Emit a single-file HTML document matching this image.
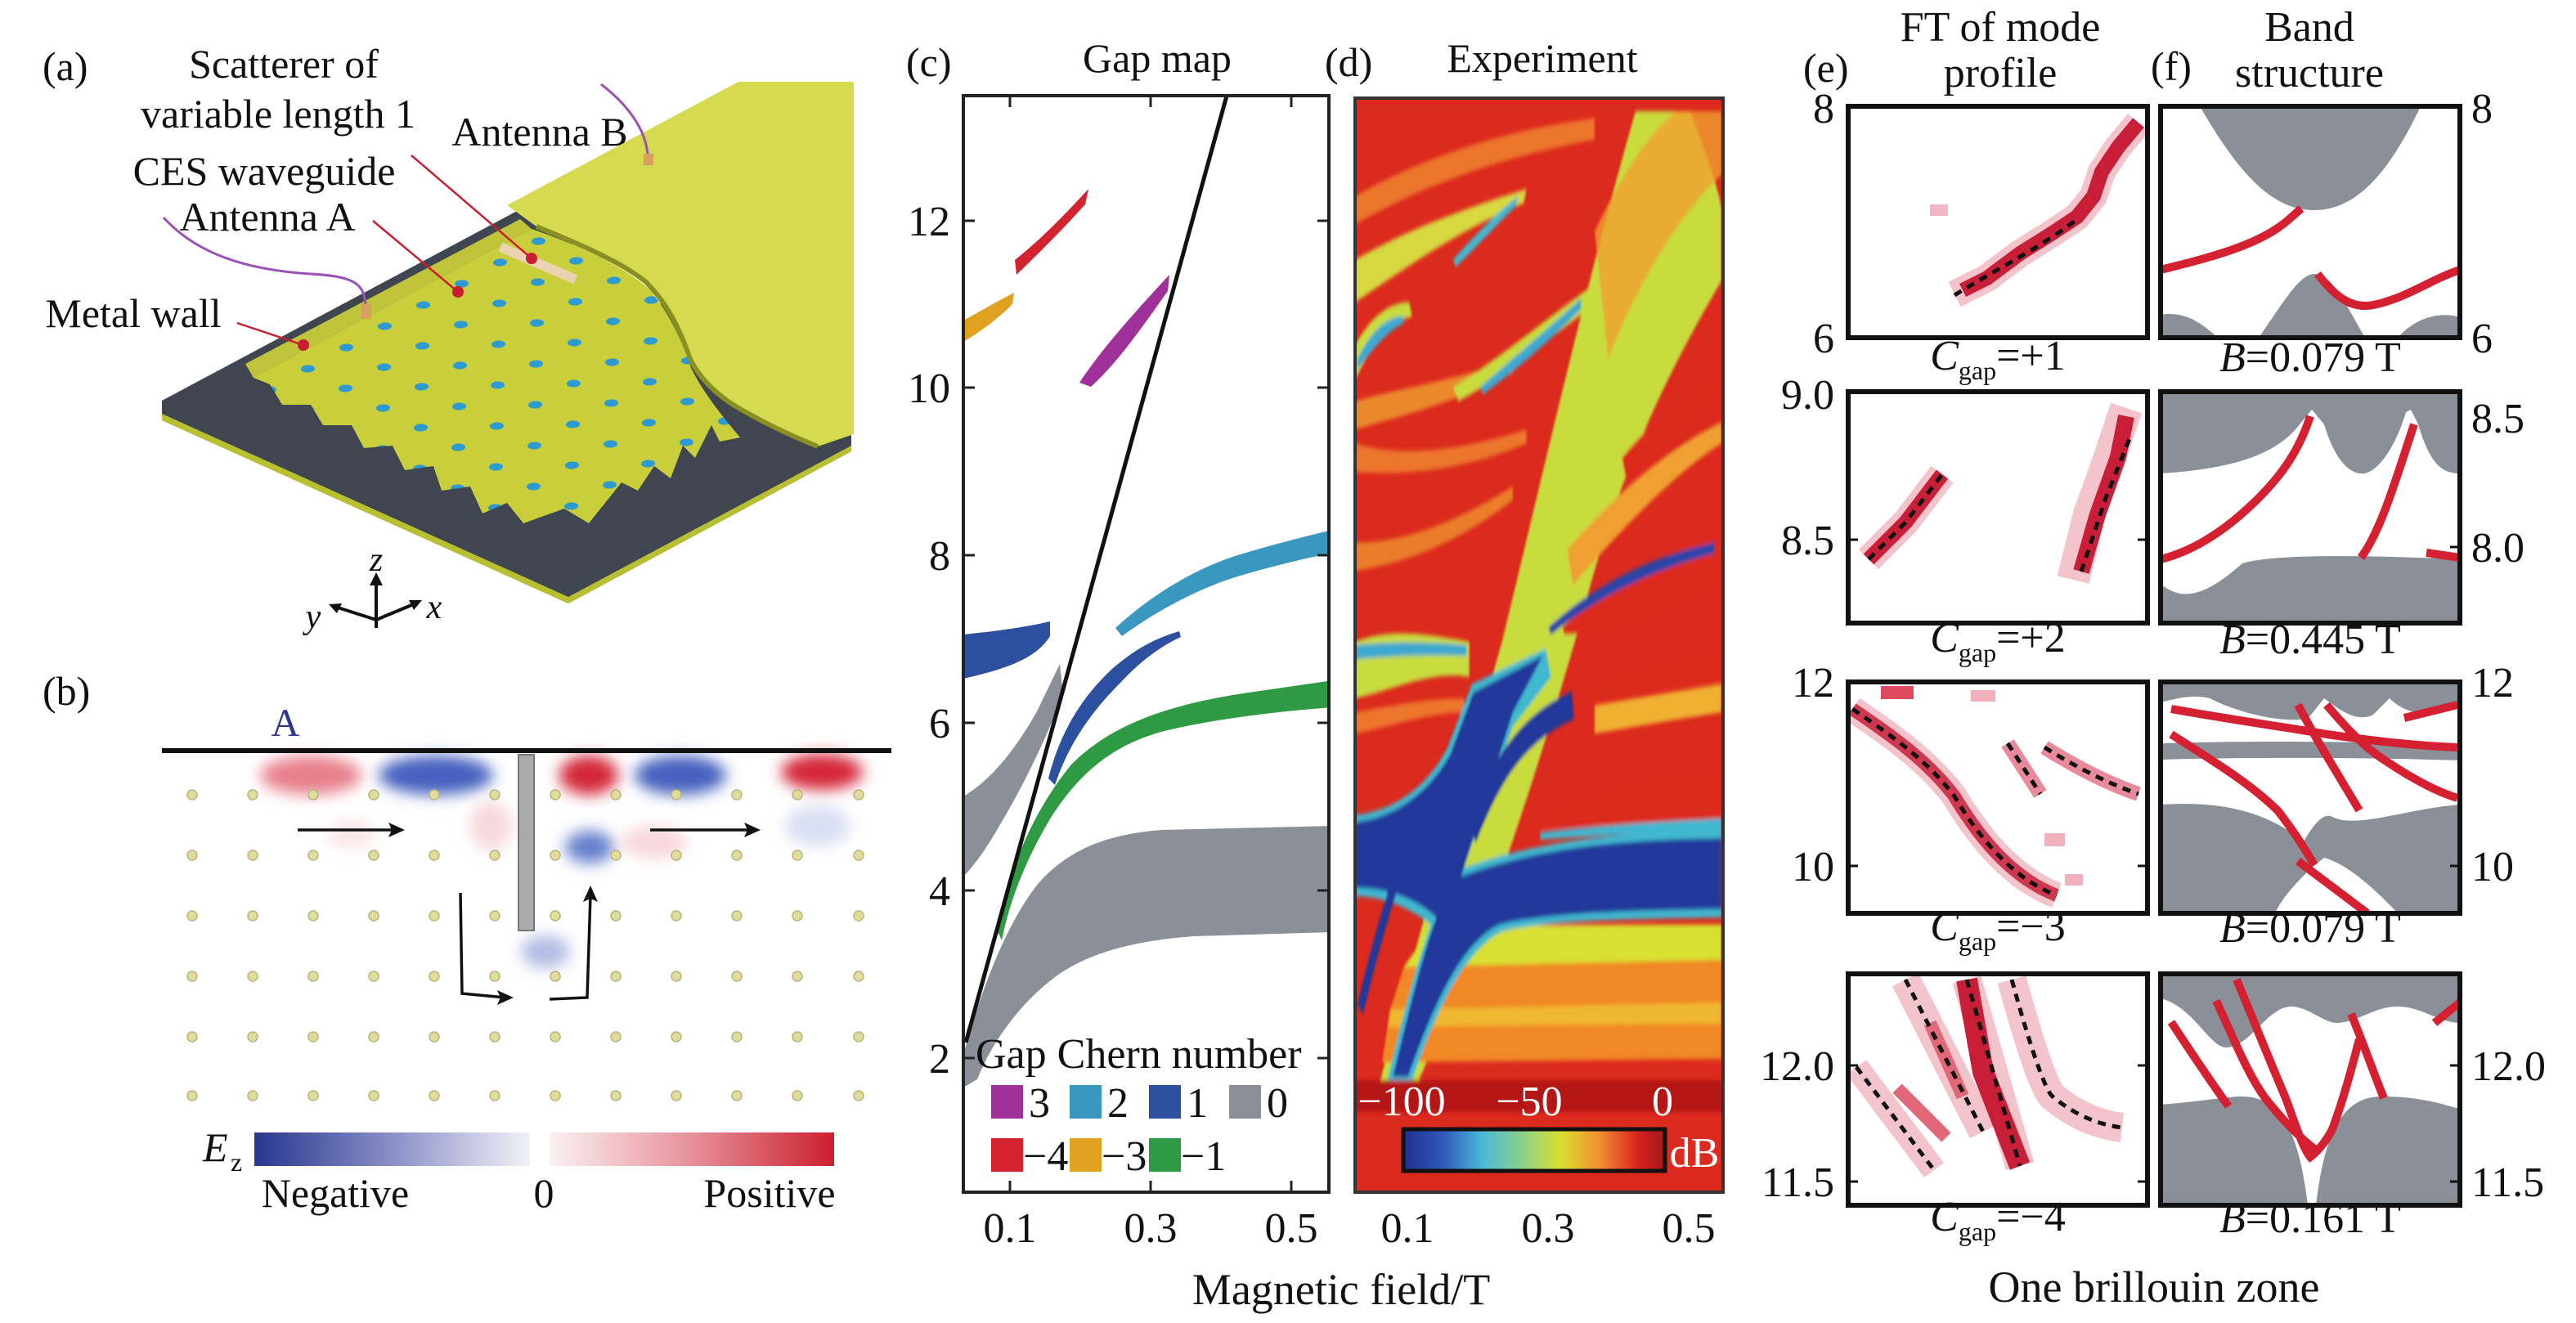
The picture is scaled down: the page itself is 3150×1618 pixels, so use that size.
<!DOCTYPE html>
<html><head><meta charset="utf-8"><style>
html,body{margin:0;padding:0;background:#fff;}
svg{display:block;}
svg, svg text{font-family:"Liberation Serif","Times New Roman","DejaVu Serif",serif;}
text{fill:#111;}
</style></head><body>
<svg width="3150" height="1618" viewBox="0 0 3150 1618" xmlns="http://www.w3.org/2000/svg" font-family="Liberation Serif, Times New Roman, DejaVu Serif, serif">
<defs>
<filter id="bl" x="-20%" y="-20%" width="140%" height="140%"><feGaussianBlur stdDeviation="9"/></filter>
<filter id="bl2" x="-20%" y="-20%" width="140%" height="140%"><feGaussianBlur stdDeviation="3"/></filter>
<pattern id="pil" patternUnits="userSpaceOnUse" width="1" height="1" patternTransform="matrix(47 -26 46 24 420 600)">
<rect width="1" height="1" fill="#c9cf3a"/>
<ellipse cx="0.5" cy="0.5" rx="0.13" ry="0.13" fill="#2e9ad2"/>
</pattern>
<linearGradient id="neg" x1="0" x2="1"><stop offset="0" stop-color="#27378f"/><stop offset="0.5" stop-color="#8a8fc6"/><stop offset="1" stop-color="#f2f2f8"/></linearGradient>
<linearGradient id="pos" x1="0" x2="1"><stop offset="0" stop-color="#fbf1f2"/><stop offset="0.5" stop-color="#e6909a"/><stop offset="1" stop-color="#cc1f2e"/></linearGradient>
<linearGradient id="jet" x1="0" x2="1"><stop offset="0" stop-color="#1f2f8f"/><stop offset="0.15" stop-color="#2f58b8"/><stop offset="0.3" stop-color="#4ab8d8"/><stop offset="0.45" stop-color="#8ad08a"/><stop offset="0.6" stop-color="#d8e030"/><stop offset="0.75" stop-color="#f09030"/><stop offset="0.9" stop-color="#d82020"/><stop offset="1" stop-color="#a01818"/></linearGradient>
<clipPath id="dclip"><rect x="1657" y="120" width="450" height="1338"/></clipPath>
<clipPath id="cclip"><rect x="1178" y="117" width="447" height="1341"/></clipPath>
</defs>

<!-- ================= Panel (a) ================= -->
<text x="52" y="98" font-size="50">(a)</text>
<text x="347" y="95" font-size="50" text-anchor="middle">Scatterer of</text>
<text x="340" y="156" font-size="50" text-anchor="middle">variable length 1</text>
<text x="660" y="178" font-size="50" text-anchor="middle">Antenna B</text>
<text x="323" y="226" font-size="50" text-anchor="middle">CES waveguide</text>
<text x="327" y="282" font-size="50" text-anchor="middle">Antenna A</text>
<text x="163" y="400" font-size="50" text-anchor="middle">Metal wall</text>

<polygon points="198,490 636,256 1041,528 1041,552 695,738 198,514" fill="#3f4650"/>
<polygon points="198,506 695,730 1041,545 1041,552 695,738 198,514" fill="#b8c030"/>
<path d="M620,251 L903,100 L1044,100 L1044,531 L1000,546 C960,530 920,510 892,492 C860,470 845,445 841,431 C830,400 815,370 790,345 C760,320 700,295 656,277 Z" fill="#d5da4e"/>
<path d="M656,277 C700,295 760,320 790,345 C815,370 830,400 841,431 C845,445 860,470 892,492 C920,510 960,530 1000,546" fill="none" stroke="#8a9020" stroke-width="6"/>
<polygon points="300,445 636,268 650,280 310,462" fill="#bfc43a"/>
<path d="M310,462 L650,280 C710,300 770,330 795,355 C820,385 835,420 845,450 C860,480 880,505 905,535 L880,540 L870,520 L850,560 L835,545 L820,585 L800,570 L780,600 L760,590 L720,640 L690,622 L640,640 L620,615 L590,628 L575,595 L540,600 L530,570 L495,575 L480,545 L445,548 L430,520 L395,520 L380,495 L345,495 L330,470 Z" fill="url(#pil)"/>
<line x1="612" y1="302" x2="704" y2="342" stroke="#ead2b0" stroke-width="12"/>
<path d="M735,103 C770,130 790,160 792,190" fill="none" stroke="#9b52b8" stroke-width="3"/>
<rect x="787" y="188" width="12" height="14" fill="#d8a060"/>
<path d="M200,266 C240,310 300,330 380,335 C430,338 445,345 447,372" fill="none" stroke="#9b52b8" stroke-width="3"/>
<rect x="442" y="372" width="12" height="18" fill="#d8a060"/>
<g stroke="#c81e30" stroke-width="2.5" fill="none">
<line x1="503" y1="190" x2="650" y2="316"/>
<line x1="456" y1="270" x2="560" y2="357"/>
<polyline points="290,395 320,405 371,422"/>
</g>
<g fill="#c81e30"><circle cx="650" cy="316" r="7"/><circle cx="560" cy="357" r="7"/><circle cx="371" cy="422" r="7"/></g>
<g stroke="#111" stroke-width="4" fill="none">
<line x1="460" y1="768" x2="460" y2="712"/>
<line x1="460" y1="758" x2="410" y2="742"/>
<line x1="460" y1="758" x2="508" y2="738"/>
</g>
<polygon points="460,700 452,716 468,716" fill="#111"/>
<polygon points="402,739 418,738 412,750" fill="#111"/>
<polygon points="516,734 500,734 506,746" fill="#111"/>
<text x="460" y="698" font-size="42" font-style="italic" text-anchor="middle">z</text>
<text x="383" y="768" font-size="42" font-style="italic" text-anchor="middle">y</text>
<text x="531" y="756" font-size="42" font-style="italic" text-anchor="middle">x</text>

<!-- ================= Panel (b) ================= -->
<text x="52" y="862" font-size="50">(b)</text>
<text x="349" y="900" font-size="48" text-anchor="middle" style="fill:#2b3590">A</text>
<g filter="url(#bl)">
<ellipse cx="380" cy="948" rx="62" ry="24" fill="#e26070" opacity="0.8"/>
<ellipse cx="533" cy="948" rx="70" ry="24" fill="#3050b8" opacity="0.9"/>
<ellipse cx="720" cy="948" rx="36" ry="24" fill="#d42838"/>
<ellipse cx="832" cy="948" rx="56" ry="24" fill="#3050b8" opacity="0.9"/>
<ellipse cx="1005" cy="944" rx="50" ry="22" fill="#d42838"/>
<ellipse cx="721" cy="1036" rx="30" ry="20" fill="#4060c0" opacity="0.8"/>
<ellipse cx="667" cy="1164" rx="30" ry="20" fill="#8090d0" opacity="0.6"/>
<ellipse cx="600" cy="1010" rx="25" ry="30" fill="#f0b0b8" opacity="0.5"/>
<ellipse cx="800" cy="1030" rx="40" ry="20" fill="#f0b0b8" opacity="0.5"/>
<ellipse cx="1000" cy="1010" rx="40" ry="25" fill="#a0b0e0" opacity="0.4"/>
<ellipse cx="430" cy="1020" rx="30" ry="18" fill="#f0c0c8" opacity="0.4"/>
</g>
<line x1="198" y1="918" x2="1090" y2="918" stroke="#111" stroke-width="6"/>
<rect x="634" y="923" width="19" height="215" fill="#a8aaae" stroke="#777" stroke-width="2"/>
<g fill="#e0dc9a" stroke="#b8b480" stroke-width="1.5">
<g id="drow">
<circle cx="235" cy="972" r="6"/><circle cx="309" cy="972" r="6"/><circle cx="383" cy="972" r="6"/><circle cx="457" cy="972" r="6"/><circle cx="531" cy="972" r="6"/><circle cx="605" cy="972" r="6"/><circle cx="679" cy="972" r="6"/><circle cx="753" cy="972" r="6"/><circle cx="827" cy="972" r="6"/><circle cx="901" cy="972" r="6"/><circle cx="975" cy="972" r="6"/><circle cx="1050" cy="972" r="6"/>
</g>
<use href="#drow" y="74"/><use href="#drow" y="148"/><use href="#drow" y="222"/><use href="#drow" y="296"/><use href="#drow" y="368"/>
</g>
<g stroke="#111" stroke-width="3.5" fill="none">
<line x1="364" y1="1015" x2="485" y2="1015"/>
<line x1="795" y1="1015" x2="920" y2="1015"/>
<polyline points="563,1092 565,1215 618,1220"/>
<polyline points="672,1222 718,1220 722,1095"/>
</g>
<g fill="#111">
<polygon points="495,1015 475,1006 479,1015 475,1024"/>
<polygon points="930,1015 910,1006 914,1015 910,1024"/>
<polygon points="628,1220 608,1211 612,1220 608,1229"/>
<polygon points="722,1083 713,1103 722,1099 731,1103"/>
</g>
<text x="248" y="1420" font-size="50" font-style="italic">E</text>
<text x="282" y="1432" font-size="32">z</text>
<rect x="311" y="1385" width="337" height="41" fill="url(#neg)"/>
<rect x="672" y="1385" width="348" height="41" fill="url(#pos)"/>
<text x="410" y="1476" font-size="50" text-anchor="middle">Negative</text>
<text x="665" y="1476" font-size="50" text-anchor="middle">0</text>
<text x="941" y="1476" font-size="50" text-anchor="middle">Positive</text>

<!-- ================= Panel (c) ================= -->
<text x="1108" y="93" font-size="50">(c)</text>
<text x="1415" y="88" font-size="50" text-anchor="middle">Gap map</text>
<g clip-path="url(#cclip)">
<path d="M1178,1290 C1200,1210 1230,1130 1270,1080 C1310,1035 1360,1020 1420,1015 L1630,1010 L1630,1140 L1460,1145 C1390,1150 1330,1165 1290,1195 C1250,1225 1215,1270 1195,1320 L1178,1330 Z" fill="#8a8f98"/>
<path d="M1178,974 C1210,955 1240,920 1268,870 L1296,812 L1300,850 C1280,900 1255,955 1222,1010 C1205,1040 1190,1060 1178,1072 Z" fill="#8a8f98"/>
<path d="M1218,1135 C1235,1060 1265,990 1310,935 C1360,885 1430,862 1520,848 L1630,832 L1630,865 C1560,870 1480,880 1420,895 C1360,912 1320,945 1285,1000 C1255,1050 1235,1100 1225,1150 Z" fill="#2f9a44"/>
<path d="M1364,768 C1400,735 1450,700 1510,680 C1560,665 1600,655 1630,648 L1630,676 C1590,684 1550,694 1510,706 C1460,722 1410,750 1372,778 Z" fill="#3a98c0"/>
<path d="M1282,952 C1295,900 1320,855 1360,818 C1390,792 1415,780 1442,772 L1444,779 C1420,790 1395,808 1370,835 C1330,875 1305,915 1290,960 Z" fill="#2c4fa0"/>
<path d="M1178,776 C1215,772 1250,768 1284,760 L1284,778 C1270,800 1245,815 1178,830 Z" fill="#2c4fa0"/>
<path d="M1320,468 C1345,430 1380,390 1430,336 L1428,356 C1400,395 1370,440 1334,473 Z" fill="#a0309a"/>
<path d="M1241,318 C1270,295 1300,265 1331,231 L1327,250 C1300,280 1270,310 1243,336 Z" fill="#d42330"/>
<path d="M1178,392 C1200,380 1220,368 1240,358 L1238,372 C1220,390 1200,405 1178,418 Z" fill="#e0a020"/>
<line x1="1181" y1="1275" x2="1502" y2="110" stroke="#111" stroke-width="5"/>
</g>
<rect x="1178" y="117" width="447" height="1341" fill="none" stroke="#222" stroke-width="4"/>
<g stroke="#222" stroke-width="3">
<line x1="1178" y1="270" x2="1192" y2="270"/><line x1="1178" y1="474" x2="1192" y2="474"/><line x1="1178" y1="679" x2="1192" y2="679"/><line x1="1178" y1="884" x2="1192" y2="884"/><line x1="1178" y1="1089" x2="1192" y2="1089"/><line x1="1178" y1="1294" x2="1192" y2="1294"/>
<line x1="1625" y1="270" x2="1611" y2="270"/><line x1="1625" y1="474" x2="1611" y2="474"/><line x1="1625" y1="679" x2="1611" y2="679"/><line x1="1625" y1="884" x2="1611" y2="884"/><line x1="1625" y1="1089" x2="1611" y2="1089"/><line x1="1625" y1="1294" x2="1611" y2="1294"/>
<line x1="1235" y1="1458" x2="1235" y2="1444"/><line x1="1407" y1="1458" x2="1407" y2="1444"/><line x1="1579" y1="1458" x2="1579" y2="1444"/>
<line x1="1235" y1="117" x2="1235" y2="131"/><line x1="1407" y1="117" x2="1407" y2="131"/><line x1="1579" y1="117" x2="1579" y2="131"/>
</g>
<g font-size="52" text-anchor="end">
<text x="1162" y="288">12</text><text x="1162" y="492">10</text><text x="1162" y="697">8</text><text x="1162" y="902">6</text><text x="1162" y="1107">4</text><text x="1162" y="1312">2</text>
</g>
<text x="1193" y="1306" font-size="52">Gap Chern number</text>
<rect x="1212" y="1327" width="39" height="41" fill="#a0309a"/><text x="1258" y="1366" font-size="52">3</text>
<rect x="1308" y="1327" width="39" height="41" fill="#3a98c0"/><text x="1354" y="1366" font-size="52">2</text>
<rect x="1405" y="1327" width="39" height="41" fill="#2c4fa0"/><text x="1451" y="1366" font-size="52">1</text>
<rect x="1503" y="1327" width="39" height="41" fill="#8a8f98"/><text x="1549" y="1366" font-size="52">0</text>
<rect x="1212" y="1392" width="39" height="41" fill="#d42330"/><text x="1251" y="1431" font-size="52">−4</text>
<rect x="1308" y="1392" width="39" height="41" fill="#e0a020"/><text x="1347" y="1431" font-size="52">−3</text>
<rect x="1405" y="1392" width="39" height="41" fill="#2f9a44"/><text x="1444" y="1431" font-size="52">−1</text>
<g font-size="52" text-anchor="middle">
<text x="1235" y="1519">0.1</text><text x="1407" y="1519">0.3</text><text x="1579" y="1519">0.5</text>
<text x="1721" y="1519">0.1</text><text x="1893" y="1519">0.3</text><text x="2065" y="1519">0.5</text>
</g>
<text x="1640" y="1595" font-size="54" text-anchor="middle">Magnetic field/T</text>

<!-- ================= Panel (d) ================= -->
<text x="1620" y="93" font-size="50">(d)</text>
<text x="1886" y="88" font-size="50" text-anchor="middle">Experiment</text>
<g clip-path="url(#dclip)">
<rect x="1650" y="110" width="480" height="1360" fill="#dc2a1e"/>
<g transform="translate(1650,110) scale(0.3333,0.865)">
<g filter="url(#bl2)">
<path d="M22,150 C200,110 500,60 900,40 L900,70 C500,100 250,140 22,190 Z" fill="#f08a30" opacity="0.8"/>
<path d="M22,240 C200,200 400,170 650,140 L640,160 C400,200 250,240 22,300 Z" fill="#d8d840"/>
<path d="M380,240 C450,210 550,170 620,150 L610,165 C540,190 460,225 390,250 Z" fill="#40b8d0"/>
<path d="M22,360 C80,320 150,300 220,300 L230,320 C150,330 80,360 22,410 Z" fill="#c8dc3c"/>
<path d="M30,380 C80,340 140,320 200,320 L200,330 C140,340 80,370 30,395 Z" fill="#3ca8d0"/>
<path d="M22,440 C200,420 400,410 600,380 L600,400 C400,440 200,460 22,480 Z" fill="#f0a030" opacity="0.8"/>
<path d="M380,420 C550,380 700,330 880,280 L880,310 C700,360 550,410 400,440 Z" fill="#c8dc3c"/>
<path d="M480,420 C600,380 720,340 850,295 L850,310 C720,360 600,400 490,430 Z" fill="#3ca8d0"/>
<path d="M22,500 C200,520 400,510 650,480 L650,500 C400,540 200,545 22,540 Z" fill="#f08a30" opacity="0.8"/>
<path d="M22,640 C200,640 400,610 600,560 L600,580 C400,640 200,670 22,680 Z" fill="#f0a030" opacity="0.7"/>
<path d="M22,780 C150,760 300,770 440,780 L440,830 C300,820 150,850 22,860 Z" fill="#c8dc3c"/>
<path d="M22,785 C150,780 300,780 430,785 L430,800 C300,798 150,800 22,805 Z" fill="#3ca8d0"/>
<path d="M22,880 C150,870 300,860 420,860 L420,880 C300,880 150,900 22,910 Z" fill="#f08a30" opacity="0.8"/>
<path d="M100,1420 C250,1200 400,1000 560,780 C700,560 850,300 1050,30 L1250,30 C1300,80 1365,150 1365,170 L1365,270 C1200,380 1000,520 850,750 C700,950 500,1200 230,1420 Z" fill="#c8dc3c"/>
<path d="M900,200 C1000,120 1100,60 1200,30 L1365,30 L1365,120 C1200,180 1050,280 950,380 Z" fill="#f0a030" opacity="0.8"/>
<path d="M800,650 C1000,560 1200,500 1365,470 L1365,500 C1200,540 1000,620 820,700 Z" fill="#f0a030"/>
<path d="M900,870 C1050,860 1200,850 1365,840 L1365,880 C1200,890 1050,900 900,910 Z" fill="#f0b030"/>
<path d="M700,1050 C900,1040 1100,1035 1365,1030 L1365,1045 C1100,1050 900,1055 700,1060 Z" fill="#40b8d0"/>
<path d="M1000,520 C1150,450 1280,420 1365,400 L1365,440 C1280,460 1150,500 1020,560 Z" fill="#dc2a1e"/>
<path d="M780,760 C950,700 1150,660 1365,620 L1365,700 C1150,740 950,770 790,770 Z" fill="#dc2a1e"/>
<path d="M880,840 C1050,820 1200,800 1365,790 L1365,835 C1200,840 1050,850 880,860 Z" fill="#dc2a1e"/>
<path d="M700,1030 C900,990 1100,970 1365,960 L1365,1030 C1100,1035 900,1040 700,1045 Z" fill="#dc2a1e"/>
<path d="M730,760 C900,700 1100,660 1340,640 L1340,655 C1100,680 900,720 740,770 Z" fill="#2c44a8"/>
<path d="M300,1185 C600,1180 1000,1180 1365,1180 L1365,1230 L200,1240 Z" fill="#d8e030"/>
<path d="M200,1240 L1365,1230 L1365,1290 L150,1300 Z" fill="#f08828"/>
<path d="M150,1300 L1365,1290 L1365,1320 L140,1325 Z" fill="#f0b830"/>
<path d="M140,1325 L1365,1320 L1365,1370 L120,1375 Z" fill="#f08828"/>
<rect x="22" y="1400" width="1350" height="45" fill="#b41818"/>
<path d="M22,1025 C150,1020 280,990 360,930 L450,840 L720,790 L740,830 L600,900 L420,1100 C700,1060 1000,1050 1365,1045 L1365,1170 C1000,1172 700,1175 560,1190 C430,1215 330,1290 230,1400 L140,1400 C200,1300 260,1220 300,1180 C200,1150 100,1140 22,1140 Z" fill="#40b8d0"/>
<path d="M22,1035 C150,1030 280,1000 370,940 L455,852 L710,800 L600,880 L410,1112 C700,1070 1000,1060 1365,1058 L1365,1158 C1000,1160 700,1165 550,1180 C420,1205 320,1280 215,1395 L160,1395 C220,1300 270,1220 320,1170 C220,1135 100,1128 22,1128 Z" fill="#22379a"/>
<path d="M40,1300 C100,1200 180,1100 260,1020" fill="none" stroke="#22379a" stroke-width="25"/>
<path d="M450,1050 C550,950 650,900 820,870" fill="none" stroke="#22379a" stroke-width="40"/>
</g>
</g>
</g>
<rect x="1657" y="120" width="450" height="1338" fill="none" stroke="#333" stroke-width="4"/>
<rect x="1716" y="1381" width="320" height="51" fill="url(#jet)" stroke="#111" stroke-width="5"/>
<g font-size="52" text-anchor="middle">
<text x="1714" y="1364" style="fill:#fff">−100</text>
<text x="1870" y="1364" style="fill:#fff">−50</text>
<text x="2033" y="1364" style="fill:#fff">0</text>
<text x="2072" y="1427" style="fill:#fff">dB</text>
</g>

<!-- ================= Panels (e),(f) ================= -->
<text x="2205" y="100" font-size="50">(e)</text>
<text x="2446" y="50" font-size="52" text-anchor="middle">FT of mode</text>
<text x="2446" y="106" font-size="52" text-anchor="middle">profile</text>
<text x="2630" y="98" font-size="50">(f)</text>
<text x="2824" y="50" font-size="52" text-anchor="middle">Band</text>
<text x="2824" y="106" font-size="52" text-anchor="middle">structure</text>

<g transform="translate(2260,130)">
<path d="M130,230 L170,210 L210,180 L250,155 L280,135 L300,110 L310,80 L330,50 L355,20" fill="none" stroke="#f4c4cc" stroke-width="34"/>
<path d="M140,225 L170,210 L210,180 L250,155 L280,135 L300,110 L310,80 L330,50 L355,20" fill="none" stroke="#c81e38" stroke-width="18"/>
<rect x="100" y="120" width="22" height="14" fill="#f0b8c4"/>
<path d="M130,231 C180,200 240,170 280,138" fill="none" stroke="#111" stroke-width="5" stroke-dasharray="10,8"/>
</g>
<g transform="translate(2260,479)">
<path d="M25,205 L70,160 L115,101" fill="none" stroke="#f4c4cc" stroke-width="34"/>
<path d="M25,205 L70,160 L115,101" fill="none" stroke="#c81e38" stroke-width="18"/>
<path d="M275,230 L295,150 L320,80 L340,20" fill="none" stroke="#f4c4cc" stroke-width="40"/>
<path d="M285,220 L305,150 L330,80 L340,30" fill="none" stroke="#c81e38" stroke-width="20"/>
<path d="M25,205 L70,160 L115,101" fill="none" stroke="#111" stroke-width="5" stroke-dasharray="10,8"/>
<path d="M285,220 L315,130 L345,55" fill="none" stroke="#111" stroke-width="5" stroke-dasharray="10,8"/>
</g>
<g transform="translate(2260,834)">
<path d="M5,33 C60,70 100,100 130,140 C160,190 200,240 255,261" fill="none" stroke="#f4c4cc" stroke-width="32"/>
<path d="M5,33 C60,70 100,100 130,140 C160,190 200,240 255,261" fill="none" stroke="#c81e38" stroke-width="16" opacity="0.85"/>
<path d="M195,75 L235,137 M240,80 C280,105 320,125 355,137" fill="none" stroke="#e88a9c" stroke-width="18"/>
<rect x="40" y="5" width="40" height="16" fill="#e04a60"/><rect x="150" y="10" width="30" height="14" fill="#f0b0bc"/>
<rect x="240" y="185" width="25" height="16" fill="#f0b0bc"/><rect x="265" y="235" width="22" height="14" fill="#f0b0bc"/>
<path d="M5,33 C60,70 100,100 130,140 C160,190 200,240 255,261" fill="none" stroke="#111" stroke-width="5" stroke-dasharray="10,8"/>
<path d="M195,75 L235,137 M240,80 C280,105 320,125 355,137" fill="none" stroke="#111" stroke-width="5" stroke-dasharray="10,8"/>
</g>
<g transform="translate(2260,1191)">
<path d="M10,114 L105,240" fill="none" stroke="#f4c4cc" stroke-width="30"/>
<path d="M70,7 L165,193 M145,7 L210,235 M200,7 C220,80 240,142 250,150 C280,175 310,185 335,188" fill="none" stroke="#f4c4cc" stroke-width="36"/>
<path d="M145,7 L165,120 L210,235" fill="none" stroke="#c81e38" stroke-width="26"/>
<path d="M60,140 L120,200 M100,60 L140,150" fill="none" stroke="#e06878" stroke-width="16"/>
<path d="M10,114 L105,240 M70,7 L165,193 M145,7 L210,235 M200,7 C220,80 240,142 250,150 C280,175 310,185 335,188" fill="none" stroke="#111" stroke-width="5" stroke-dasharray="10,8"/>
</g>

<g transform="translate(2642,130)">
<path d="M48,0 C100,90 140,127 188,127 C240,127 280,80 318,0 Z" fill="#8a8f98"/>
<path d="M120,283 C150,240 170,205 188,205 C210,205 225,240 250,283 Z" fill="#8a8f98"/>
<path d="M0,255 C30,250 50,265 70,283 L0,283 Z M290,283 C310,260 340,250 366,258 L366,283 Z" fill="#8a8f98"/>
<path d="M0,200 C60,185 120,170 155,140 L172,125" fill="none" stroke="#d42030" stroke-width="10"/>
<path d="M192,205 C215,235 235,248 260,243 C300,235 330,212 366,200" fill="none" stroke="#d42030" stroke-width="10"/>
</g>
<g transform="translate(2642,479)">
<path d="M0,100 C80,95 140,80 170,40 L185,22 L200,40 C215,90 235,102 250,100 C270,95 290,60 300,25 L306,22 L315,40 C330,90 345,100 366,100 L366,0 L0,0 Z" fill="#8a8f98"/>
<path d="M0,283 L0,235 C30,260 60,245 100,210 C140,198 250,200 366,205 L366,283 Z" fill="#8a8f98"/>
<path d="M0,205 C40,195 80,170 120,130 C150,100 170,70 183,30" fill="none" stroke="#d42030" stroke-width="10"/>
<path d="M245,203 C270,170 290,100 310,40" fill="none" stroke="#d42030" stroke-width="10"/>
<path d="M325,197 L366,203" fill="none" stroke="#d42030" stroke-width="10"/>
</g>
<g transform="translate(2642,834)">
<path d="M0,0 L366,0 L366,30 C330,45 300,40 280,20 L260,40 C240,50 220,35 200,20 L180,45 C150,50 100,40 60,20 C40,15 20,20 0,25 Z" fill="#8a8f98"/>
<path d="M0,75 C100,72 250,72 366,78 L366,96 C250,92 100,92 0,95 Z" fill="#8a8f98"/>
<path d="M0,150 C80,145 130,160 175,195 C190,170 200,160 210,165 C240,180 300,155 366,150 L366,283 L290,283 C250,240 220,220 200,215 C180,230 150,260 140,283 L0,283 Z" fill="#8a8f98"/>
<path d="M13,33 C80,45 150,55 203,64 C260,72 310,78 363,80" fill="none" stroke="#d42030" stroke-width="10"/>
<path d="M13,64 C70,100 110,125 143,157 C165,185 180,210 188,224" fill="none" stroke="#d42030" stroke-width="10"/>
<path d="M168,28 C190,70 215,110 243,157" fill="none" stroke="#d42030" stroke-width="10"/>
<path d="M203,28 C230,60 250,80 273,95 C310,120 340,135 363,142" fill="none" stroke="#d42030" stroke-width="10"/>
<path d="M168,219 L253,283" fill="none" stroke="#d42030" stroke-width="10"/>
<path d="M298,44 L363,28" fill="none" stroke="#d42030" stroke-width="10"/>
</g>
<g transform="translate(2642,1191)">
<path d="M0,30 C40,40 60,90 80,90 C110,90 130,40 160,40 C180,40 200,60 215,60 C240,60 260,40 290,40 C320,40 340,60 366,60 L366,0 L0,0 Z" fill="#8a8f98"/>
<path d="M0,160 C60,155 80,150 100,150 C150,150 170,200 180,283 L190,283 C200,200 220,150 270,150 C320,150 345,160 366,165 L366,283 L0,283 Z" fill="#8a8f98"/>
<path d="M13,59 C40,100 60,130 83,162" fill="none" stroke="#d42030" stroke-width="10"/>
<path d="M68,33 C90,80 105,120 128,152 C150,180 170,200 188,214" fill="none" stroke="#d42030" stroke-width="10"/>
<path d="M93,7 C115,60 135,110 153,152 C165,185 175,215 183,224 C195,215 205,200 210,190 C225,150 235,110 243,80" fill="none" stroke="#d42030" stroke-width="10"/>
<path d="M233,49 C250,90 260,120 273,152" fill="none" stroke="#d42030" stroke-width="10"/>
<path d="M335,60 L366,35" fill="none" stroke="#d42030" stroke-width="10"/>
</g>

<g fill="none" stroke="#111" stroke-width="6">
<rect x="2260" y="130" width="366" height="283"/><rect x="2642" y="130" width="366" height="283"/>
<rect x="2260" y="479" width="366" height="283"/><rect x="2642" y="479" width="366" height="283"/>
<rect x="2260" y="834" width="366" height="283"/><rect x="2642" y="834" width="366" height="283"/>
<rect x="2260" y="1191" width="366" height="283"/><rect x="2642" y="1191" width="366" height="283"/>
</g>
<g stroke="#111" stroke-width="3">
<line x1="2260" y1="660" x2="2272" y2="660"/><line x1="2614" y1="660" x2="2626" y2="660"/>
<line x1="2260" y1="1059" x2="2272" y2="1059"/><line x1="2614" y1="1059" x2="2626" y2="1059"/>
<line x1="2260" y1="1303" x2="2272" y2="1303"/><line x1="2614" y1="1303" x2="2626" y2="1303"/>
<line x1="2260" y1="1445" x2="2272" y2="1445"/><line x1="2614" y1="1445" x2="2626" y2="1445"/>
<line x1="2996" y1="669" x2="3008" y2="669"/><line x1="2996" y1="1059" x2="3008" y2="1059"/>
<line x1="2996" y1="1303" x2="3008" y2="1303"/><line x1="2996" y1="1445" x2="3008" y2="1445"/>
</g>
<g font-size="52" text-anchor="end">
<text x="2243" y="150">8</text><text x="2243" y="431">6</text>
<text x="2243" y="500">9.0</text><text x="2243" y="678">8.5</text>
<text x="2243" y="852">12</text><text x="2243" y="1077">10</text>
<text x="2243" y="1321">12.0</text><text x="2243" y="1463">11.5</text>
</g>
<g font-size="52">
<text x="3022" y="150">8</text><text x="3022" y="431">6</text>
<text x="3022" y="529">8.5</text><text x="3022" y="687">8.0</text>
<text x="3022" y="852">12</text><text x="3022" y="1077">10</text>
<text x="3022" y="1321">12.0</text><text x="3022" y="1463">11.5</text>
</g>
<g font-size="52" text-anchor="middle">
<text x="2443" y="452"><tspan font-style="italic">C</tspan><tspan font-size="32" dy="12">gap</tspan><tspan dy="-12">=+1</tspan></text>
<text x="2443" y="797"><tspan font-style="italic">C</tspan><tspan font-size="32" dy="12">gap</tspan><tspan dy="-12">=+2</tspan></text>
<text x="2443" y="1150"><tspan font-style="italic">C</tspan><tspan font-size="32" dy="12">gap</tspan><tspan dy="-12">=−3</tspan></text>
<text x="2443" y="1505"><tspan font-style="italic">C</tspan><tspan font-size="32" dy="12">gap</tspan><tspan dy="-12">=−4</tspan></text>
<text x="2825" y="454"><tspan font-style="italic">B</tspan>=0.079 T</text>
<text x="2825" y="799"><tspan font-style="italic">B</tspan>=0.445 T</text>
<text x="2825" y="1152"><tspan font-style="italic">B</tspan>=0.079 T</text>
<text x="2825" y="1507"><tspan font-style="italic">B</tspan>=0.161 T</text>
</g>
<text x="2634" y="1592" font-size="54" text-anchor="middle">One brillouin zone</text>
</svg>
</body></html>
